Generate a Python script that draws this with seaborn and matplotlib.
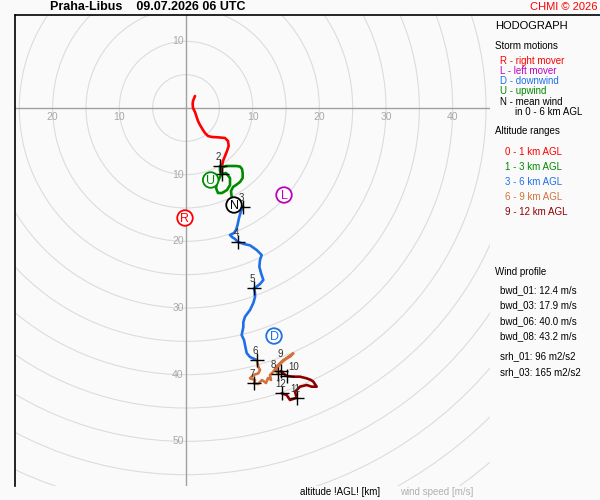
import matplotlib
matplotlib.use("Agg")
import matplotlib.pyplot as plt
from matplotlib.lines import Line2D
import numpy as np
import pandas as pd
import seaborn as sns

# hodograph trace, u / v components in m/s (v negative = downwards on chart)
u_0_1 = [1.35, 1.05, 1.0, 1.05, 1.35, 1.6, 1.8, 2.1, 2.55, 2.85, 3.3, 3.9, 4.8, 5.85, 6.3, 6.4, 6.15, 5.85, 5.55, 5.4, 5.4]
v_0_1 = [1.8, 1.05, 0.6, 0.0, -0.6, -1.35, -1.95, -2.55, -3.3, -3.75, -4.2, -4.35, -4.4, -4.5, -4.95, -5.7, -6.45, -7.2, -7.95, -8.7, -9.9]

u_1_3 = [5.4, 6.0, 6.6, 6.6, 6.15, 5.4, 4.8, 4.5, 4.65, 4.95, 5.25, 5.1, 5.1, 5.55, 6.0, 6.6, 7.5, 8.1, 8.4, 8.5, 8.5, 8.1, 7.5, 7.05, 6.75, 6.83, 7.05, 7.5, 8.1, 8.55]
v_1_3 = [-9.9, -9.75, -10.5, -11.55, -12.3, -12.75, -12.75, -12.0, -11.25, -10.65, -10.05, -9.3, -8.7, -8.85, -8.7, -8.7, -8.7, -8.78, -9.15, -9.75, -10.5, -11.1, -11.55, -11.85, -12.45, -13.2, -13.8, -14.25, -14.55, -14.85]

u_3_6 = [8.55, 8.25, 7.95, 7.73, 7.5, 7.2, 6.6, 6.9, 7.35, 7.8, 8.7, 9.6, 10.6, 11.35, 11.1, 11.0, 11.25, 11.6, 11.1, 10.5, 10.2, 10.35, 10.35, 10.1, 9.6, 8.85, 8.6, 8.6, 8.35, 8.7, 8.85, 9.1, 9.6, 10.6]
v_3_6 = [-14.85, -15.45, -16.5, -17.55, -18.3, -18.75, -19.05, -19.35, -19.65, -20.1, -20.4, -20.6, -21.3, -22.05, -22.8, -23.8, -24.75, -25.8, -26.4, -26.85, -27.05, -27.75, -28.35, -29.25, -30.3, -31.3, -32.1, -32.85, -34.05, -34.8, -35.55, -36.75, -37.35, -37.8]

u_6_9 = [10.6, 10.85, 11.1, 10.85, 10.1, 9.6, 10.35, 10.2, 10.8, 11.4, 12.0, 12.3, 12.75, 12.6, 13.1, 13.65, 14.6, 15.6, 16.1, 15.3, 14.1, 13.5, 13.8, 14.25]
v_6_9 = [-37.8, -38.8, -39.3, -39.8, -40.05, -40.55, -40.8, -41.3, -41.4, -40.8, -41.25, -40.5, -40.8, -40.05, -39.55, -38.7, -37.8, -37.3, -36.8, -37.35, -38.4, -39.3, -39.9, -39.45]

u_9_12 = [14.25, 14.7, 15.15, 16.05, 17.1, 18.1, 18.75, 19.1, 19.6, 18.85, 18.1, 17.1, 16.35, 16.6, 15.6, 15.1, 14.35]
v_9_12 = [-39.45, -39.9, -40.2, -40.3, -40.3, -40.55, -40.8, -41.05, -41.8, -41.8, -41.55, -41.8, -42.55, -43.45, -43.8, -43.05, -42.8]

layer_names = ["0 - 1 km AGL", "1 - 3 km AGL", "3 - 6 km AGL", "6 - 9 km AGL", "9 - 12 km AGL"]
layer_colors = ["#ff0000", "#008a00", "#1f6fe8", "#d2733f", "#8e0000"]

# altitude marks (km)
alt_km = [1, 2, 3, 4, 5, 6, 7, 8, 9, 10, 11, 12]
alt_u = [5.4, 5.1, 8.55, 7.8, 10.2, 10.6, 10.2, 13.8, 14.25, 15.15, 16.6, 14.35]
alt_v = [-9.9, -8.7, -14.85, -20.1, -27.05, -37.8, -41.3, -39.9, -39.45, -40.2, -43.45, -42.8]
alt_shown = [False, True, True, True, True, True, True, True, True, True, True, True]

# storm motions
sm_letters = ["R", "L", "D", "U", "N"]
sm_u = [-0.15, 14.7, 13.2, 3.7, 7.2]
sm_v = [-16.5, -13.05, -34.2, -10.8, -14.55]
sm_colors = ["#ff0000", "#c000c0", "#1f6fe8", "#008a00", "#000000"]

axis_ticks = [-20, -10, 10, 20, 30, 40]
vert_ticks = [10, -10, -20, -30, -40, -50]

legend_storm = ["R - right mover", "L - left mover", "D - downwind", "U - upwind", "N - mean wind"]
profile_lines = ["bwd_01: 12.4 m/s", "bwd_03: 17.9 m/s", "bwd_06: 40.0 m/s", "bwd_08: 43.2 m/s"]
srh_lines = ["srh_01: 96 m2/s2", "srh_03: 165 m2/s2"]

sns.set_style("white")
plt.rcParams['font.family'] = ['Liberation Sans', 'DejaVu Sans']

bg = "#fafafa"
fig = plt.figure(figsize=(6, 5), dpi=100, facecolor=bg)
ax = fig.add_axes([15/600, 14/500, 475/600, 471/500])
ax.set_facecolor(bg)
S = 6.667  # px per m/s
ax.set_xlim((15-186)/S, (490-186)/S)
ax.set_ylim((108-486)/S, (108-15)/S)

for r in range(5, 80, 5):
    ax.add_patch(plt.Circle((0, 0), r, fill=False, ec="#dcdcdc", lw=0.8, zorder=0))
ax.axhline(0, color="#a0a0a0", lw=1, zorder=1)
ax.axvline(0, color="#a0a0a0", lw=1, zorder=1)

for t in axis_ticks:
    ax.text(t, -1.35, str(abs(t)), ha="center", va="center", color="#a8a8a8", fontsize=7.5)
for t in vert_ticks:
    ax.text(-0.35, t, str(abs(t)), ha="right", va="center", color="#a8a8a8", fontsize=7.5)

frames = []
for name, uu, vv in zip(layer_names, [u_0_1, u_1_3, u_3_6, u_6_9, u_9_12],
                        [v_0_1, v_1_3, v_3_6, v_6_9, v_9_12]):
    frames.append(pd.DataFrame({"u": uu, "v": vv, "layer": name}))
hodo = pd.concat(frames, ignore_index=True)
sns.lineplot(data=hodo, x="u", y="v", hue="layer", palette=dict(zip(layer_names, layer_colors)),
             sort=False, estimator=None, legend=False, lw=1.9, ax=ax, zorder=3)

marks = pd.DataFrame({"km": alt_km, "u": alt_u, "v": alt_v, "shown": alt_shown})
sns.scatterplot(data=marks, x="u", y="v", marker="+", color="black", s=100, linewidth=1,
                ax=ax, zorder=4, legend=False)
label_off = {8: (-3.5, 6.5), 9: (-0.5, 12), 10: (5, 6.5)}
for _, row in marks.iterrows():
    if row["shown"]:
        ax.annotate(str(row["km"]), (row["u"], row["v"]), xytext=label_off.get(row["km"], (-1, 6.5)),
                    textcoords="offset points", ha="center", va="center",
                    fontsize=7, color="#333333", zorder=5)

storms = pd.DataFrame({"u": sm_u, "v": sm_v, "letter": sm_letters})
sns.scatterplot(data=storms, x="u", y="v", marker="o", s=125, linewidth=1.3, ax=ax, zorder=6, legend=False)
ax.collections[-1].set_facecolor("white")
ax.collections[-1].set_edgecolor(sm_colors)
for l, uu, vv, cc in zip(sm_letters, sm_u, sm_v, sm_colors):
    ax.text(uu, vv - 0.1, l, ha="center", va="center", color=cc, fontsize=9, zorder=7)

ax.set_xticks([])
ax.set_yticks([])
ax.set_xlabel("")
ax.set_ylabel("")
for side in ["top", "right", "bottom"]:
    ax.spines[side].set_visible(False)
ax.spines["left"].set_color("black")
ax.spines["left"].set_linewidth(1.2)
fig.add_artist(Line2D([15/600, 1], [1-15/500, 1-15/500], color="black", lw=1.2))


def ftext(x, y, s, **kw):
    fig.text(x/600, 1-y/500, s, va="center", **kw)


ftext(50, 7, "Praha-Libus    09.07.2026 06 UTC", fontsize=9, fontweight="bold", color="black")
ftext(597, 7, "CHMI \u00a9 2026", fontsize=8, color="#ff0000", ha="right")
ftext(495, 26, "HODOGRAPH", fontsize=8, color="black")
ftext(495, 46, "Storm motions", fontsize=7, color="black")
for i, (s, c) in enumerate(zip(legend_storm, sm_colors)):
    ftext(500, 61.5 + 10*i, s, fontsize=7, color=c)
ftext(515, 112, "in 0 - 6 km AGL", fontsize=7, color="black")
ftext(495, 131, "Altitude ranges", fontsize=7, color="black")
for i, (s, c) in enumerate(zip(layer_names, layer_colors)):
    ftext(505, 152 + 15*i, s, fontsize=7, color=c)
ftext(495, 272, "Wind profile", fontsize=7, color="black")
for i, s in enumerate(profile_lines):
    ftext(500, 290 + 15.5*i, s, fontsize=7, color="black")
for i, s in enumerate(srh_lines):
    ftext(500, 356 + 16*i, s, fontsize=7, color="black")
ftext(300, 492, "altitude !AGL! [km]", fontsize=7, color="black")
ftext(400, 492, "wind speed [m/s]", fontsize=7, color="#b0b0b0")

fig.savefig("out.png", dpi=100, facecolor=bg)
